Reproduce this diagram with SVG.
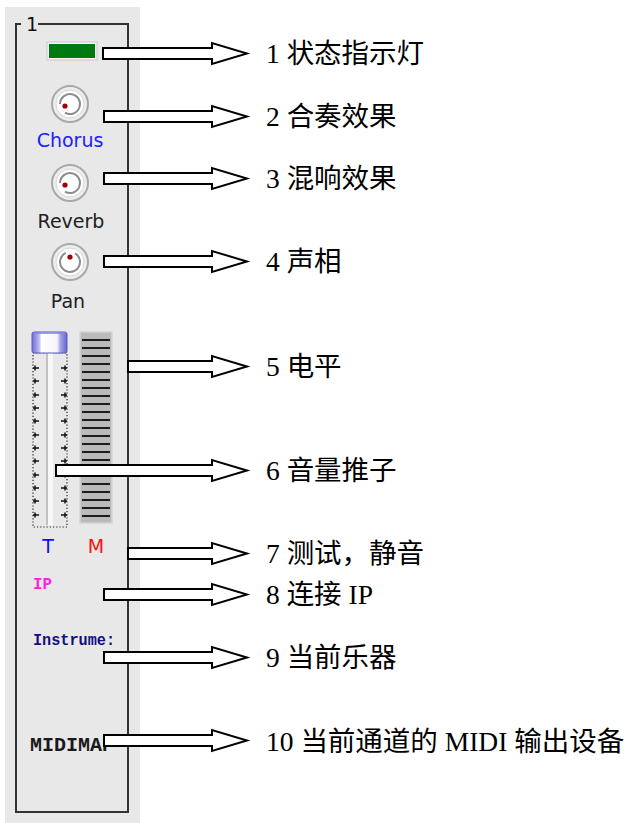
<svg xmlns="http://www.w3.org/2000/svg" width="631" height="823" viewBox="0 0 631 823">
<defs>
<style>
.frame{fill:none;stroke:#333333;stroke-width:2}
.arrow{fill:#ffffff;stroke:#000000;stroke-width:2;stroke-linejoin:miter}
.lbl{font-family:"Liberation Serif","Noto Sans CJK SC",serif;font-size:27.5px;fill:#000}
.ui{font-family:"DejaVu Sans","Liberation Sans",sans-serif;font-size:19px}
.mono{font-family:"Liberation Mono","DejaVu Sans Mono",monospace;font-weight:bold}
.kout{fill:#ededed;stroke:#a9a9a9;stroke-width:2}
.kmid{fill:#ffffff;stroke:#d6d6d6;stroke-width:1}
.karc{fill:none;stroke:#8c8c8c;stroke-width:2}
.kdot{fill:#a00000}
.mline{stroke:#1e1e1e;stroke-width:2}
.tick{stroke:#111;stroke-width:1.5;fill:none}
</style>
<linearGradient id="thumb" x1="0" y1="0" x2="1" y2="0">
<stop offset="0" stop-color="#6e6ed6"/>
<stop offset="0.2" stop-color="#b8b8f0"/>
<stop offset="0.27" stop-color="#ffffff"/>
<stop offset="0.72" stop-color="#f4f4f8"/>
<stop offset="0.8" stop-color="#a8a8e8"/>
<stop offset="1" stop-color="#6464cc"/>
</linearGradient>
</defs>

<g id="panel">
<rect x="5" y="7" width="135" height="816" fill="#e8e8e8"/>
<path class="frame" d="M21,24 H16 V812 H128 V24 H38"/>
<text x="26" y="31" font-family="DejaVu Sans, Liberation Sans, sans-serif" font-size="19" fill="#111">1</text>
</g>

<g id="status-led">
<rect x="47" y="42" width="50" height="18" fill="#f6f6f6" stroke="#c8c8c8" stroke-width="1"/>
<rect x="49" y="44" width="46" height="14" fill="#007a10"/>
</g>

<g id="chorus">
<circle class="kout" cx="70" cy="104" r="18"/>
<circle class="kmid" cx="70" cy="104" r="14"/>
<path class="karc" d="M60,104 A10,10 0 1 1 65,112.7"/>
<circle class="kdot" cx="65" cy="106" r="2.6"/>
<text class="ui" x="70" y="147" text-anchor="middle" fill="#2020ff">Chorus</text>
</g>

<g id="reverb">
<circle class="kout" cx="70" cy="183" r="18"/>
<circle class="kmid" cx="70" cy="183" r="14"/>
<path class="karc" d="M60,183 A10,10 0 1 1 65,191.7"/>
<circle class="kdot" cx="65" cy="185" r="2.6"/>
<text class="ui" x="71" y="228" text-anchor="middle" fill="#202020">Reverb</text>
</g>

<g id="pan">
<circle class="kout" cx="70" cy="262" r="18"/>
<circle class="kmid" cx="70" cy="262" r="14"/>
<path class="karc" d="M75,253.3 A10,10 0 1 1 65.8,252.9"/>
<circle class="kdot" cx="70" cy="257" r="2.6"/>
<text class="ui" x="68" y="308" text-anchor="middle" fill="#202020">Pan</text>
</g>

<g id="fader">
<rect x="33" y="353" width="34" height="174" fill="none" stroke="#222" stroke-width="1.2" stroke-dasharray="1.2 2"/>
<rect x="46" y="353" width="7" height="172" fill="#f8f8f8"/>
<line x1="47" y1="353" x2="47" y2="525" stroke="#b0b0b0" stroke-width="1.5"/>
<path class="tick" d="M33,368 H39 M35,365.5 V370.5 M61,368 H67 M65,365.5 V370.5
M33,381 H39 M35,378.5 V383.5 M61,381 H67 M65,378.5 V383.5
M33,395 H39 M35,392.5 V397.5 M61,395 H67 M65,392.5 V397.5
M33,408 H39 M35,405.5 V410.5 M61,408 H67 M65,405.5 V410.5
M33,421 H39 M35,418.5 V423.5 M61,421 H67 M65,418.5 V423.5
M33,435 H39 M35,432.5 V437.5 M61,435 H67 M65,432.5 V437.5
M33,448 H39 M35,445.5 V450.5 M61,448 H67 M65,445.5 V450.5
M33,461 H39 M35,458.5 V463.5 M61,461 H67 M65,458.5 V463.5
M33,475 H39 M35,472.5 V477.5 M61,475 H67 M65,472.5 V477.5
M33,488 H39 M35,485.5 V490.5 M61,488 H67 M65,485.5 V490.5
M33,501 H39 M35,498.5 V503.5 M61,501 H67 M65,498.5 V503.5
M33,515 H39 M35,512.5 V517.5 M61,515 H67 M65,512.5 V517.5"/>
<rect x="32" y="332" width="35" height="21" rx="2" fill="url(#thumb)" stroke="#5a5ac0" stroke-width="1"/>
<line x1="33" y1="333" x2="66" y2="333" stroke="#8484dc" stroke-width="1.5"/>
</g>

<g id="meter">
<rect x="80" y="332" width="32" height="191" fill="#bababa" stroke="#d4d4d4" stroke-width="1.5"/>
<g class="mline">
<line x1="82" y1="340" x2="110" y2="340"/><line x1="82" y1="348" x2="110" y2="348"/>
<line x1="82" y1="356" x2="110" y2="356"/><line x1="82" y1="364" x2="110" y2="364"/>
<line x1="82" y1="372" x2="110" y2="372"/><line x1="82" y1="380" x2="110" y2="380"/>
<line x1="82" y1="388" x2="110" y2="388"/><line x1="82" y1="396" x2="110" y2="396"/>
<line x1="82" y1="404" x2="110" y2="404"/><line x1="82" y1="412" x2="110" y2="412"/>
<line x1="82" y1="420" x2="110" y2="420"/><line x1="82" y1="428" x2="110" y2="428"/>
<line x1="82" y1="436" x2="110" y2="436"/><line x1="82" y1="444" x2="110" y2="444"/>
<line x1="82" y1="452" x2="110" y2="452"/><line x1="82" y1="460" x2="110" y2="460"/>
<line x1="82" y1="468" x2="110" y2="468"/><line x1="82" y1="476" x2="110" y2="476"/>
<line x1="82" y1="484" x2="110" y2="484"/><line x1="82" y1="492" x2="110" y2="492"/>
<line x1="82" y1="500" x2="110" y2="500"/><line x1="82" y1="508" x2="110" y2="508"/>
<line x1="82" y1="516" x2="110" y2="516"/>
</g>
</g>

<g id="test-mute">
<text class="ui" x="48" y="553" text-anchor="middle" fill="#1010ff">T</text>
<text class="ui" x="96" y="553" text-anchor="middle" fill="#ff1010">M</text>
</g>

<g id="ip">
<text class="mono" x="33" y="589" font-size="16" fill="#ff20e0" textLength="19" lengthAdjust="spacingAndGlyphs">IP</text>
</g>

<g id="instrument">
<text class="mono" x="33" y="645" font-size="16" fill="#101080" textLength="82" lengthAdjust="spacingAndGlyphs">Instrume:</text>
</g>

<g id="midi-device">
<text class="mono" x="30" y="751" font-size="20" fill="#1a1a1a" textLength="84" lengthAdjust="spacingAndGlyphs">MIDIMAP</text>
</g>

<g id="connectors">
<path class="arrow" d="M103,48 H212 V43 L247,53.5 L212,64 V59 H103 Z"/>
<path class="arrow" d="M104,111 H212 V106 L247,116.5 L212,127 V122 H104 Z"/>
<path class="arrow" d="M104,173 H212 V168 L247,178.5 L212,189 V184 H104 Z"/>
<path class="arrow" d="M104,256 H212 V251 L247,261.5 L212,272 V267 H104 Z"/>
<path class="arrow" d="M128,361 H212 V356 L247,366.5 L212,377 V372 H128 Z"/>
<path class="arrow" d="M56,465 H212 V460 L247,470.5 L212,481 V476 H56 Z"/>
<path class="arrow" d="M128,548 H212 V543 L247,553.5 L212,564 V559 H128 Z"/>
<path class="arrow" d="M104,589 H212 V584 L247,594.5 L212,605 V600 H104 Z"/>
<path class="arrow" d="M104,652 H212 V647 L247,657.5 L212,668 V663 H104 Z"/>
<path class="arrow" d="M104,735 H212 V730 L247,740.5 L212,751 V746 H104 Z"/>
</g>

<g id="labels">
<text class="lbl" x="266" y="63">1 状态指示灯</text>
<text class="lbl" x="266" y="126">2 合奏效果</text>
<text class="lbl" x="266" y="188">3 混响效果</text>
<text class="lbl" x="266" y="271">4 声相</text>
<text class="lbl" x="266" y="376">5 电平</text>
<text class="lbl" x="266" y="480">6 音量推子</text>
<text class="lbl" x="266" y="563">7 测试，静音</text>
<text class="lbl" x="266" y="604">8 连接 IP</text>
<text class="lbl" x="266" y="667">9 当前乐器</text>
<text class="lbl" x="266" y="751">10 当前通道的 MIDI 输出设备</text>
</g>
</svg>
